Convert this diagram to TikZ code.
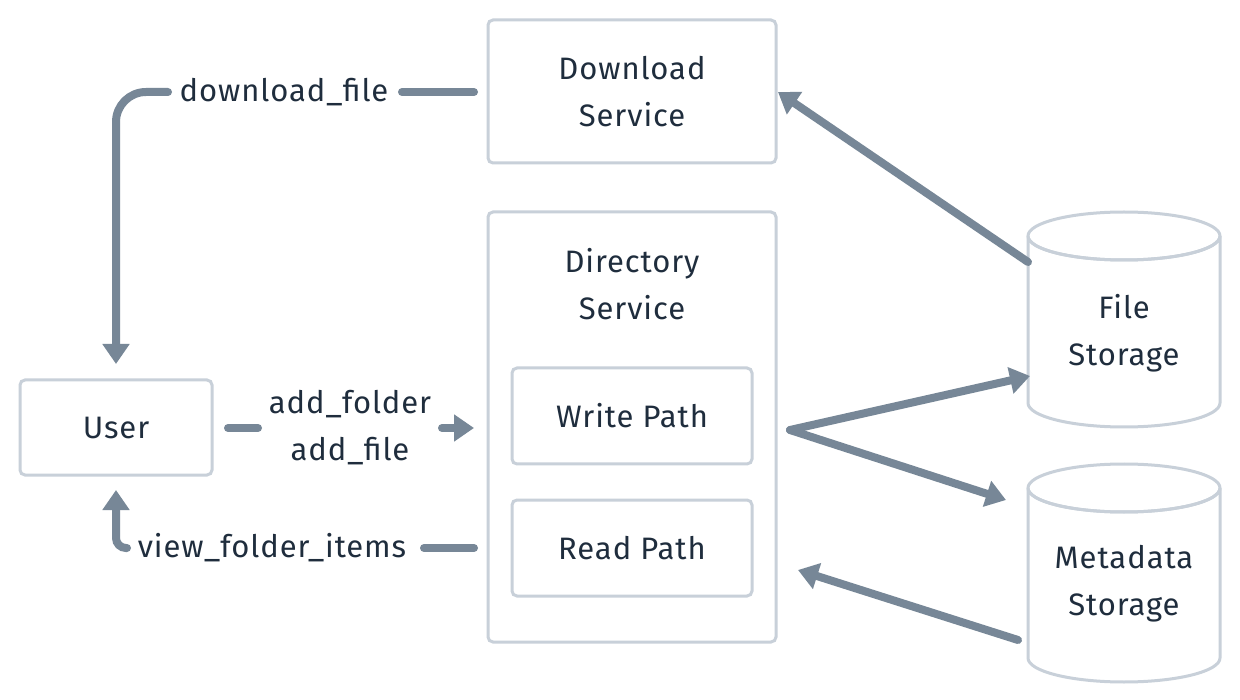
\documentclass[tikz,border=0pt]{standalone}
\usepackage{fontspec}
\setmainfont{Fira Sans}[LetterSpace=3]
\usetikzlibrary{arrows.meta}
\definecolor{boxc}{HTML}{C8D0D9}
\definecolor{linec}{HTML}{778797}
\definecolor{txt}{HTML}{1F2D3D}
\tikzset{
  box/.style={draw=boxc, line width=3pt, rounded corners=5pt, fill=white},
  lbl/.style={text=txt, font=\fontsize{31}{47}\selectfont, align=center, inner sep=0pt},
  conn/.style={draw=linec, line width=8pt, line cap=round},
  arr/.style={conn, -{Triangle[length=20pt,width=26pt]}},
}
\begin{document}
\begin{tikzpicture}[x=1pt,y=-1pt]
\useasboundingbox[fill=white] (0,0) rectangle (1240,700);
% boxes
\draw[box] (488,20) rectangle (776,163);
\node[lbl] (dl) at (632,92) {Download\\Service};
\draw[box] (488,212) rectangle (776,642);
\node[lbl] (dir) at (632,284) {Directory\\Service};
\draw[box] (512,368) rectangle (752,464);
\node[lbl] (wp) at (632,416) {Write Path};
\draw[box] (512,500) rectangle (752,596);
\node[lbl] (rp) at (632,548) {Read Path};
\draw[box] (20,380) rectangle (212,475);
\node[lbl] (user) at (116,428) {User};
% cylinders
\draw[draw=boxc, line width=3pt, fill=white]
  (1028,236) -- (1028,403) arc[start angle=180, end angle=360, x radius=96, y radius=-24]
  -- (1220,236) arc[start angle=0, end angle=360, x radius=96, y radius=-24];
\draw[draw=boxc, line width=3pt]
  (1028,236) arc[start angle=180, end angle=360, x radius=96, y radius=-24];
\node[lbl] (fs) at (1124,333) {File\\Storage};
\draw[draw=boxc, line width=3pt, fill=white]
  (1028,488) -- (1028,658) arc[start angle=180, end angle=360, x radius=96, y radius=-24]
  -- (1220,488) arc[start angle=0, end angle=360, x radius=96, y radius=-24];
\draw[draw=boxc, line width=3pt]
  (1028,488) arc[start angle=180, end angle=360, x radius=96, y radius=-24];
\node[lbl] (ms) at (1124,584) {Metadata\\Storage};
% connector labels
\node[lbl] (l1) at (284,92) {download\_file};
\node[lbl] (l2) at (350,428) {add\_folder\\add\_file};
\node[lbl] (l3) at (272,548) {view\_folder\_items};
% coordinates
\coordinate (dlL) at (474,92);
\coordinate (l1R) at (402,92);
\coordinate (l1L) at (168,92);
\coordinate (userT) at (116,364);
\coordinate (userB) at (116,490);
\coordinate (userR) at (228,428);
\coordinate (l2L) at (258,428);
\coordinate (l2R) at (442,428);
\coordinate (dirL1) at (474,428);
\coordinate (dirL2) at (474,548);
\coordinate (l3R) at (424,548);
\coordinate (l3L) at (127,548);
\coordinate (dlR) at (778,92);
\coordinate (fsA) at (1028,262);
\coordinate (wpR) at (790,430);
\coordinate (fsIn) at (1030,376);
\coordinate (msIn) at (1006,500);
\coordinate (msOut) at (1018,640);
\coordinate (rpR) at (798,570);
% connectors
\draw[conn] (dlL) -- (l1R);
\draw[arr, rounded corners=30pt] (l1L) -| (userT);
\draw[conn] (userR) -- (l2L);
\draw[arr] (l2R) -- (dirL1);
\draw[conn] (dirL2) -- (l3R);
\draw[arr, rounded corners=10pt] (l3L) -| (userB);
\draw[arr] (fsA) -- (dlR);
\draw[arr] (wpR) -- (fsIn);
\draw[arr] (wpR) -- (msIn);
\draw[arr] (msOut) -- (rpR);
\end{tikzpicture}
\end{document}
